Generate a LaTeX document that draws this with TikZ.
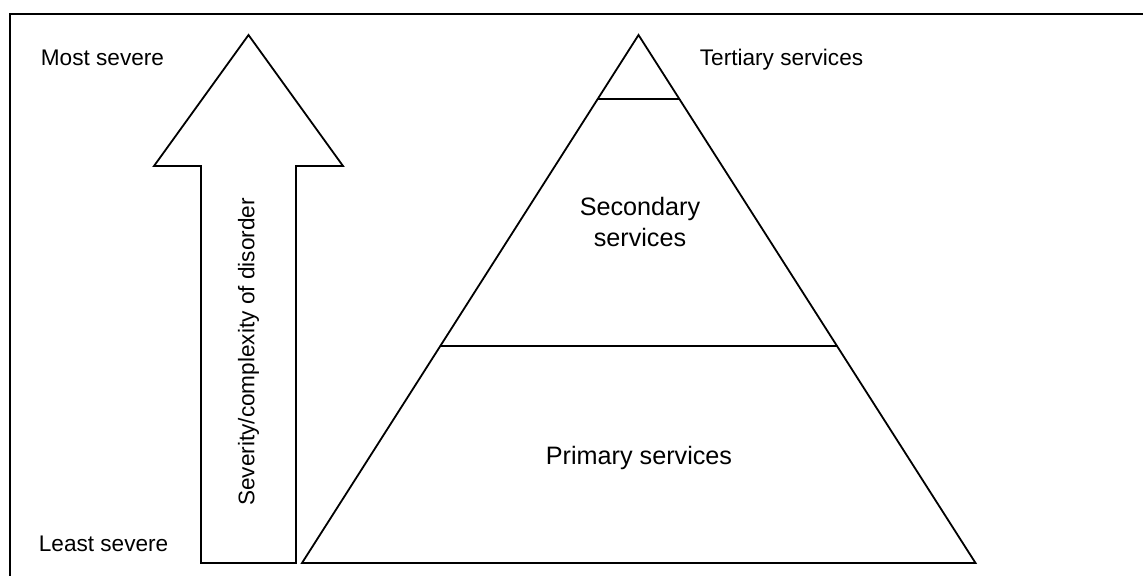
\documentclass[tikz,border=0pt]{standalone}
\usepackage{fontspec}
\setmainfont{Liberation Sans}
\usetikzlibrary{calc}
\tikzset{>=latex}
\tikzset{
  lbl/.style={font=\fontsize{11.3}{15.5}\selectfont, inner sep=0pt},
  tierlbl/.style={font=\fontsize{12.6}{15.5}\selectfont, inner sep=0pt},
}

\begin{document}
\begin{tikzpicture}[x=0.5pt,y=-0.5pt,line width=0.9pt]
    \useasboundingbox (0,0) rectangle (1143,576);
    \clip (0,0) rectangle (1143,576);

    \coordinate (tip) at (248.5,35);
    \coordinate (apex) at (638.5,35);
    \coordinate (bl) at (302,563);
    \coordinate (br) at (975.5,563);

    % FRAME
    \draw (10,600) -- (10,14) -- (1160,14);

    % ARROW
    \draw (tip) -- (154,166) -- (201,166) -- (201,563)
        -- (296,563) -- (296,166) -- (343,166) -- cycle;
    \node[lbl, rotate=90] (sev) at (248.5,352) {Severity/complexity of disorder};
    \node[lbl, anchor=base west] (most) at (40,66) {Most severe};
    \node[lbl, anchor=base west] (least) at (38,551) {Least severe};

    % PYRAMID
    \draw (apex) -- (br) -- (bl) -- cycle;
    \draw ($(apex)!0.1212!(bl)$) -- ($(apex)!0.1212!(br)$);
    \draw ($(apex)!0.589!(bl)$) -- ($(apex)!0.589!(br)$);
    \node[lbl, anchor=base west] (tert) at (699,66) {Tertiary services};
    \node[tierlbl, align=center] (sec) at (640,222) {Secondary\\services};
    \node[tierlbl, anchor=base] (prim) at (639,464) {Primary services};
\end{tikzpicture}
\end{document}
